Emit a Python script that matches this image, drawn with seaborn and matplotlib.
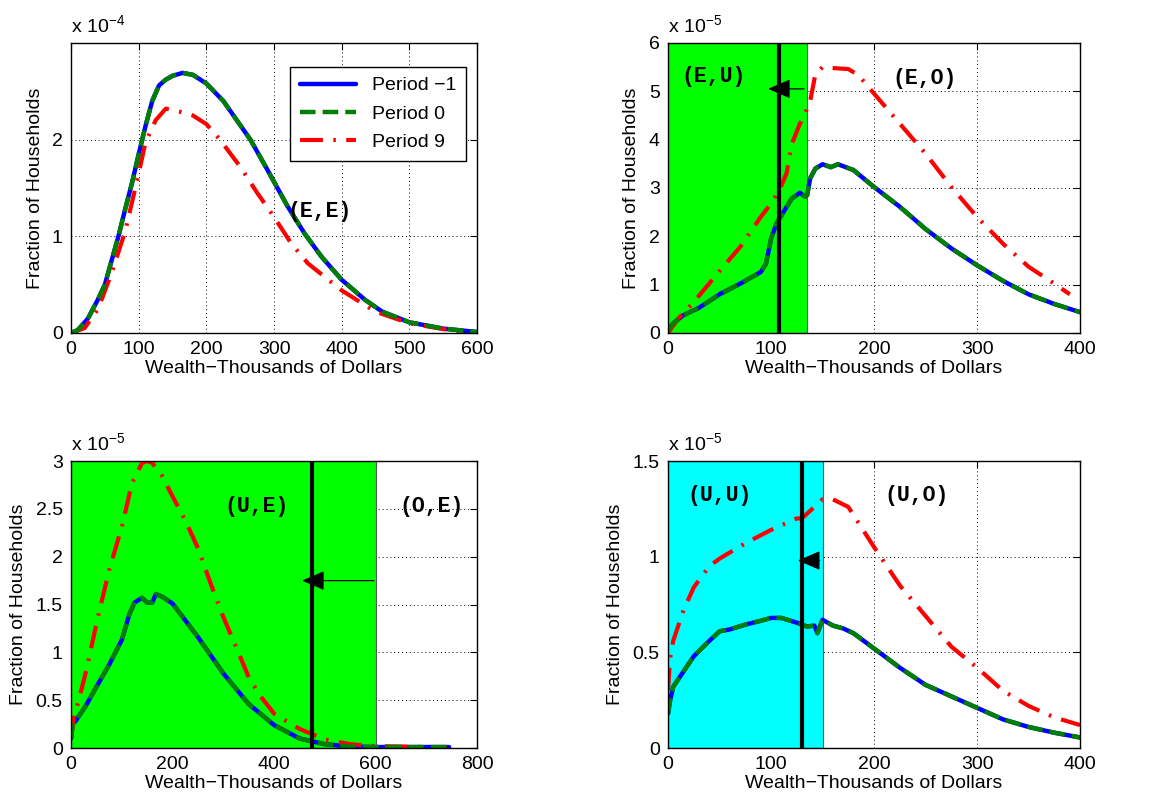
import matplotlib
matplotlib.use("Agg")
import matplotlib.pyplot as plt
import seaborn as sns

# (E,E) panel, fraction of households in units of 1e-4
ee_x = [0, 10, 25, 40, 50, 60, 70, 80, 90, 100, 110, 120, 130, 140, 150, 165, 180,
        200, 225, 250, 265, 290, 320, 345, 370, 400, 435, 460, 500, 550, 600]
ee_base = [0, 0.03, 0.15, 0.35, 0.5, 0.75, 1.0, 1.28, 1.55, 1.85, 2.14, 2.4, 2.56, 2.62,
           2.66, 2.69, 2.67, 2.58, 2.4, 2.15, 2.0, 1.69, 1.31, 1.03, 0.79, 0.55, 0.34,
           0.22, 0.11, 0.045, 0.01]
ee_x9 = [0, 20, 40, 60, 80, 100, 110, 125, 140, 160, 180, 200, 220, 250, 275, 300,
         325, 350, 400, 450, 500, 550, 585]
ee_p9 = [0, 0.05, 0.25, 0.62, 1.05, 1.65, 1.97, 2.2, 2.32, 2.29, 2.25, 2.16, 2.0, 1.72,
         1.45, 1.2, 0.93, 0.72, 0.44, 0.22, 0.1, 0.04, 0.01]

# (E,U)/(E,O) panel, units of 1e-5
eu_x = [0, 5, 15, 30, 50, 70, 90, 95, 100, 105, 110, 120, 128, 133, 135, 138, 143,
        150, 158, 165, 180, 200, 225, 250, 275, 300, 325, 350, 375, 400]
eu_base = [0.05, 0.2, 0.37, 0.52, 0.8, 1.02, 1.26, 1.43, 1.95, 2.25, 2.43, 2.78, 2.9,
           2.82, 2.85, 3.2, 3.4, 3.49, 3.43, 3.49, 3.37, 3.02, 2.61, 2.15, 1.75, 1.4,
           1.08, 0.8, 0.6, 0.43]
eu_x9 = [0, 10, 25, 50, 70, 90, 100, 108, 115, 120, 128, 133, 138, 143, 150, 160, 175,
         185, 200, 225, 250, 275, 300, 325, 350, 375, 390]
eu_p9 = [0, 0.3, 0.64, 1.28, 1.78, 2.4, 2.68, 2.95, 3.3, 3.9, 4.33, 4.54, 4.8, 5.35,
         5.5, 5.48, 5.46, 5.33, 4.95, 4.33, 3.71, 3.02, 2.4, 1.85, 1.37, 1.02, 0.8]

# (U,E)/(O,E) panel, units of 1e-5
ue_x = [0, 3, 10, 30, 50, 75, 100, 115, 125, 140, 150, 160, 167, 180, 200, 250, 300,
        350, 400, 450, 500, 550, 600, 650, 700, 745]
ue_base = [0.1, 0.25, 0.29, 0.45, 0.64, 0.87, 1.13, 1.4, 1.52, 1.57, 1.52, 1.52, 1.61,
           1.58, 1.51, 1.16, 0.78, 0.46, 0.24, 0.1, 0.04, 0.015, 0.01, 0.01, 0.01, 0.01]
ue_x9 = [0, 5, 15, 30, 50, 75, 100, 120, 140, 150, 160, 180, 200, 225, 250, 275, 300,
         325, 350, 375, 400, 450, 500, 550, 600, 700, 740]
ue_p9 = [0.1, 0.3, 0.5, 0.81, 1.3, 1.86, 2.31, 2.77, 2.98, 3.0, 2.98, 2.84, 2.63, 2.38,
         2.09, 1.72, 1.37, 1.06, 0.74, 0.53, 0.36, 0.2, 0.09, 0.04, 0.02, 0.01, 0.005]

# (U,U)/(U,O) panel, units of 1e-5
uu_x = [0, 2, 5, 15, 25, 40, 50, 60, 75, 90, 100, 110, 125, 135, 142, 145, 147, 150,
        160, 170, 180, 200, 225, 250, 275, 300, 325, 350, 375, 400]
uu_base = [0.18, 0.25, 0.32, 0.4, 0.48, 0.56, 0.61, 0.62, 0.645, 0.665, 0.68, 0.68,
           0.655, 0.635, 0.64, 0.6, 0.63, 0.67, 0.64, 0.625, 0.6, 0.52, 0.42, 0.33,
           0.27, 0.21, 0.15, 0.11, 0.08, 0.055]
uu_x9 = [0, 2, 5, 15, 25, 40, 50, 75, 100, 125, 130, 140, 150, 160, 175, 200, 225, 250,
         275, 300, 325, 350, 375, 400]
uu_p9 = [0.3, 0.47, 0.56, 0.72, 0.84, 0.95, 0.99, 1.07, 1.14, 1.2, 1.2, 1.25, 1.3, 1.3,
         1.26, 1.05, 0.85, 0.69, 0.53, 0.42, 0.3, 0.22, 0.16, 0.12]

period_labels = ["Period \u22121", "Period 0", "Period 9"]
xlabel = "Wealth\u2212Thousands of Dollars"
ylabel = "Fraction of Households"

sns.set_style("white")
plt.rcParams["font.family"] = ["Liberation Sans", "DejaVu Sans"]
plt.rcParams["mathtext.default"] = "regular"
plt.rcParams["font.size"] = 14
for key in ["text.color", "axes.labelcolor", "xtick.color", "ytick.color"]:
    plt.rcParams[key] = "black"

fig = plt.figure(figsize=(11.59, 8.07), dpi=100)
ax_ee = fig.add_axes([0.0613, 0.5874, 0.3503, 0.3594])
ax_eu = fig.add_axes([0.5764, 0.5874, 0.3555, 0.3594])
ax_ue = fig.add_axes([0.0613, 0.0731, 0.3503, 0.3556])
ax_uu = fig.add_axes([0.5764, 0.0731, 0.3555, 0.3556])

panels = [
    (ax_ee, ee_x, ee_base, ee_x9, ee_p9, 600, 3.0, [0, 100, 200, 300, 400, 500, 600], [0, 1, 2], "-4"),
    (ax_eu, eu_x, eu_base, eu_x9, eu_p9, 400, 6.0, [0, 100, 200, 300, 400], [0, 1, 2, 3, 4, 5, 6], "-5"),
    (ax_ue, ue_x, ue_base, ue_x9, ue_p9, 800, 3.0, [0, 200, 400, 600, 800], [0, 0.5, 1, 1.5, 2, 2.5, 3], "-5"),
    (ax_uu, uu_x, uu_base, uu_x9, uu_p9, 400, 1.5, [0, 100, 200, 300, 400], [0, 0.5, 1, 1.5], "-5"),
]

for ax, x, base, x9, p9, xmax, ymax, xt, yt, expo in panels:
    ax.set_axisbelow(True)
    sns.lineplot(x=x, y=base, ax=ax, color="#0000ff", linewidth=3.2,
                 label=period_labels[0] if ax is ax_ee else None, zorder=3)
    sns.lineplot(x=x, y=base, ax=ax, color="#008000", linewidth=3.2,
                 linestyle=(0, (3.5, 1.6)),
                 label=period_labels[1] if ax is ax_ee else None, zorder=4)
    sns.lineplot(x=x9, y=p9, ax=ax, color="#ff0000", linewidth=3.0,
                 linestyle=(0, (5.5, 2.5, 0.6, 2.5)),
                 label=period_labels[2] if ax is ax_ee else None, zorder=3)
    ax.set_xlim(0, xmax)
    ax.set_ylim(0, ymax)
    ax.set_xticks(xt)
    ax.set_yticks(yt)
    ax.set_yticklabels([f"{v:g}" for v in yt])
    ax.grid(True, linestyle=(0, (1, 3)), color="black", linewidth=0.7)
    ax.tick_params(direction="in", length=5, width=0.8, top=True, right=True,
                   labelsize=14, pad=6)
    for s in ax.spines.values():
        s.set_color("black")
        s.set_linewidth(1.0)
        s.set_zorder(6)
    ax.set_xlabel(xlabel, fontsize=14, labelpad=1)
    ax.set_ylabel(ylabel, fontsize=14, labelpad=6)
    ax.text(0, 1.025, "x 10$^{" + expo.replace("-", "\u2212") + "}$", transform=ax.transAxes,
            ha="left", va="bottom", fontsize=14)

mono = dict(family=["Liberation Mono", "DejaVu Sans Mono"], weight="bold", fontsize=15.5,
            color="black", ha="center", va="center", zorder=7)

# shaded regions, policy thresholds and arrows
region_end = [135, 600, 150]
region_col = ["#00ff00", "#00ff00", "#00ffff"]
policy_x = [108, 474, 130]
arrow_tip = [97, 455, 126]
arrow_y = [5.05, 1.75, 0.98]
for ax, end, col, px, tip, ay in zip([ax_eu, ax_ue, ax_uu], region_end, region_col,
                                     policy_x, arrow_tip, arrow_y):
    ax.axvspan(0, end, facecolor=col, edgecolor="0.35", linewidth=0.8, zorder=1)
    ax.axvline(px, color="black", linewidth=3.0, zorder=5)
    ax.annotate("", xy=(tip, ay), xytext=(end - 3, ay),
                arrowprops=dict(arrowstyle="-|>,head_length=0.7,head_width=0.3",
                                color="black", lw=0.9, mutation_scale=20,
                                shrinkA=0, shrinkB=0), zorder=8)

ax_ee.text(368, 1.26, "(E,E)", **mono)
ax_eu.text(44, 5.3, "(E,U)", **mono)
ax_eu.text(249, 5.26, "(E,O)", **mono)
ax_ue.text(365, 2.52, "(U,E)", **mono)
ax_ue.text(711, 2.52, "(O,E)", **mono)
ax_uu.text(50, 1.32, "(U,U)", **mono)
ax_uu.text(241, 1.32, "(U,O)", **mono)

leg = ax_ee.legend(loc="upper right", bbox_to_anchor=(0.973, 0.917), borderaxespad=0,
                   fancybox=False, framealpha=1, edgecolor="black", fontsize=14,
                   handlelength=2.9, labelspacing=0.55, borderpad=0.5)
leg.get_frame().set_linewidth(1.0)
leg.set_zorder(9)

fig.savefig("out.png", dpi=100)
